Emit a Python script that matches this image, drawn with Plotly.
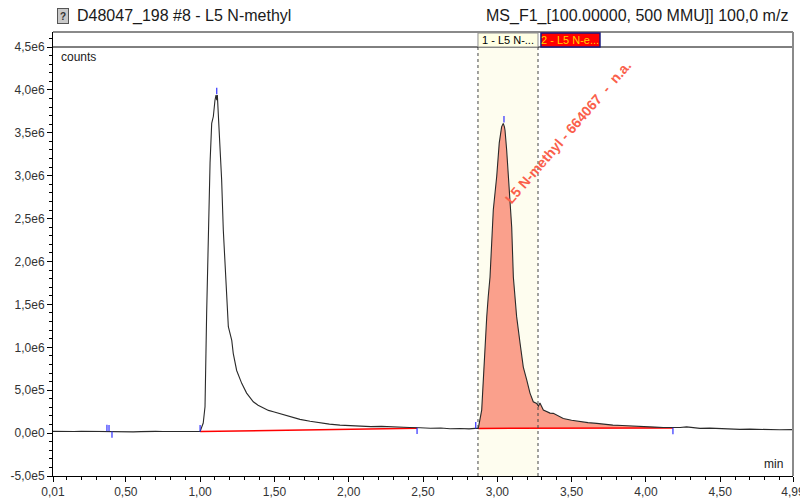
import plotly.graph_objects as go
import numpy as np

# ---------------- data ----------------
time_min = [0.01, 0.05, 0.10, 0.15, 0.20, 0.25, 0.30, 0.35, 0.40, 0.45, 0.50, 0.55, 0.60, 0.65, 0.70,
            0.75, 0.80, 0.85, 0.90, 0.95,
            1.000, 1.021, 1.033, 1.044, 1.055, 1.067, 1.078, 1.089, 1.100, 1.107, 1.112, 1.116, 1.122,
            1.129, 1.138, 1.145, 1.156, 1.167, 1.179, 1.190, 1.213, 1.223, 1.246, 1.280, 1.313, 1.335,
            1.358, 1.39, 1.425, 1.46, 1.493, 1.54, 1.583, 1.63, 1.672, 1.74, 1.807, 1.87, 1.941, 2.01,
            2.076, 2.15, 2.22, 2.29, 2.345, 2.41, 2.48, 2.55, 2.62, 2.682, 2.75, 2.81, 2.850,
            2.872, 2.895, 2.906, 2.917, 2.929, 2.939, 2.951, 2.962, 2.973, 2.996, 3.013, 3.029, 3.040,
            3.048, 3.052, 3.063, 3.081, 3.097, 3.108, 3.130, 3.153, 3.175, 3.198, 3.220, 3.242, 3.265,
            3.277, 3.287, 3.310, 3.355, 3.377, 3.444, 3.50, 3.556, 3.61, 3.669, 3.72, 3.778, 3.84,
            3.893, 3.95, 4.005, 4.06, 4.117, 4.182, 4.23, 4.274, 4.32, 4.364, 4.43, 4.499, 4.57, 4.633,
            4.70, 4.768, 4.84, 4.90, 4.99]
counts = [2.0e4, 1.8e4, 2.1e4, 1.9e4, 2.2e4, 2.0e4, 1.7e4, 2.3e4, 2.0e4, 1.9e4, 1.6e4, 1.4e4, 1.7e4, 2.1e4, 2.0e4,
          1.8e4, 1.9e4, 2.2e4, 1.9e4, 2.0e4,
          1.8e4, 1.17e5, 3.07e5, 1.40e6, 2.37e6, 3.15e6, 3.61e6, 3.69e6, 3.88e6, 3.94e6, 3.88e6, 3.94e6, 3.73e6,
          3.50e6, 3.34e6, 2.95e6, 2.37e6, 1.98e6, 1.47e6, 1.24e6, 1.08e6, 9.3e5, 7.3e5, 5.8e5, 4.66e5, 4.1e5,
          3.65e5, 3.25e5, 2.91e5, 2.65e5, 2.48e5, 2.25e5, 2.10e5, 1.85e5, 1.60e5, 1.38e5, 1.20e5, 1.05e5, 9.3e4, 8.6e4,
          8.2e4, 7.5e4, 7.8e4, 7.1e4, 7.3e4, 6.6e4, 6.2e4, 5.6e4, 5.9e4, 5.0e4, 5.3e4, 4.9e4, 5.5e4,
          5.5e4, 2.68e5, 6.56e5, 1.05e6, 1.36e6, 1.59e6, 1.82e6, 2.21e6, 2.60e6, 2.99e6, 3.38e6, 3.57e6, 3.61e6,
          3.57e6, 3.53e6, 3.30e6, 2.80e6, 2.40e6, 1.82e6, 1.36e6, 1.05e6, 7.7e5, 6.2e5, 4.66e5, 3.65e5, 3.46e5,
          3.15e5, 3.5e5, 2.68e5, 2.33e5, 2.30e5, 1.71e5, 1.50e5, 1.32e5, 1.22e5, 1.13e5, 1.02e5, 9.3e4, 8.8e4,
          8.2e4, 7.9e4, 7.3e4, 7.0e4, 6.6e4, 6.2e4, 6.6e4, 7.3e4, 6.0e4, 5.5e4, 5.8e4, 5.2e4, 4.9e4, 4.3e4,
          4.6e4, 4.1e4, 4.4e4, 3.9e4, 4.0e4]

# integration baselines (start time, end time, start level, end level)
base1_t = [1.000, 2.46]
base1_v = [1.8e4, 5.8e4]
base2_t = [2.872, 4.182]
base2_v = [5.5e4, 6.0e4]

# peak delimiter marks
start_marks = [0.373, 0.387, 1.000, 2.855]
end_marks = [0.407, 2.46, 4.182]
apex_t = [1.112, 3.045]
apex_v = [3.95e6, 3.62e6]

window_t = [2.870, 3.274]

y_tickvals = [-5e5, 0, 5e5, 1e6, 1.5e6, 2e6, 2.5e6, 3e6, 3.5e6, 4e6, 4.5e6]
y_ticktext = ["-5,0e5", "0,0e0", "5,0e5", "1,0e6", "1,5e6", "2,0e6", "2,5e6", "3,0e6", "3,5e6", "4,0e6", "4,5e6"]
x_tickvals = [0.01, 0.5, 1.0, 1.5, 2.0, 2.5, 3.0, 3.5, 4.0, 4.5, 4.99]
x_ticktext = ["0,01", "0,50", "1,00", "1,50", "2,00", "2,50", "3,00", "3,50", "4,00", "4,50", "4,99"]

FONT = "Liberation Sans, Arial, sans-serif"
t = np.array(time_min)
c = np.array(counts)

fig = go.Figure()

# filled area of peak 2
m = (t >= base2_t[0]) & (t <= base2_t[1])
px = list(t[m]) + base2_t[::-1]
py = list(c[m]) + base2_v[::-1]
fig.add_trace(go.Scatter(x=px, y=py, fill="toself", fillcolor="rgb(250,160,140)",
                         line=dict(width=0), mode="lines", hoverinfo="skip"))

# baselines
for bt, bv in [(base1_t, base1_v), (base2_t, base2_v)]:
    fig.add_trace(go.Scatter(x=bt, y=bv, mode="lines", line=dict(color="#FF0000", width=1.5),
                             hoverinfo="skip"))

# chromatogram trace
fig.add_trace(go.Scatter(x=time_min, y=counts, mode="lines",
                         line=dict(color="#2a2a2a", width=1.1)))

# blue delimiter marks
L = 7.5e4
mx, my = [], []
for s in start_marks:
    v = float(np.interp(s, t, c))
    mx += [s, s, None]
    my += [v, v + L, None]
for e in end_marks:
    v = float(np.interp(e, t, c))
    mx += [e, e, None]
    my += [v, v - L, None]
for a, v in zip(apex_t, apex_v):
    mx += [a, a, None]
    my += [v, v + L, None]
fig.add_trace(go.Scatter(x=mx, y=my, mode="lines", line=dict(color="#3030ff", width=1.2),
                         hoverinfo="skip"))

shapes = []
# integration window shading
shapes.append(dict(type="rect", xref="x", yref="paper", x0=window_t[0], x1=window_t[1], y0=0, y1=1,
                   fillcolor="#FEFDEF", line=dict(width=0), layer="below"))
for wt in window_t:
    shapes.append(dict(type="line", xref="x", yref="y", x0=wt, x1=wt, y0=-5e5, y1=4.5e6,
                       line=dict(color="#444444", width=1, dash="dot")))
# line at 4.5e6
shapes.append(dict(type="line", xref="paper", yref="y", x0=0, x1=1, y0=4.5e6, y1=4.5e6,
                   line=dict(color="black", width=1)))
# top and right gray frame
shapes.append(dict(type="line", xref="paper", yref="paper", x0=0, x1=1, y0=1, y1=1,
                   line=dict(color="#8a8a8a", width=2)))
shapes.append(dict(type="line", xref="paper", yref="paper", x0=1, x1=1, y0=0, y1=1,
                   line=dict(color="#8a8a8a", width=2)))
# label boxes in the top strip
shapes.append(dict(type="rect", xref="x", yref="paper", x0=2.870, x1=3.274, y0=0.9662, y1=0.9977,
                   fillcolor="#FFFFE4", line=dict(color="#909090", width=1)))
shapes.append(dict(type="rect", xref="x", yref="paper", x0=3.294, x1=3.691, y0=0.9662, y1=0.9977,
                   fillcolor="#FF0000", line=dict(color="#1a1a80", width=1.5)))

annotations = [
    dict(text="1 - L5 N-...", x=(2.870 + 3.274) / 2, xref="x", y=0.982, yref="paper", showarrow=False,
         xanchor="center", yanchor="middle", font=dict(family=FONT, size=11, color="black")),
    dict(text="2 - L5 N-e...", x=(3.294 + 3.691) / 2, xref="x", y=0.982, yref="paper", showarrow=False,
         xanchor="center", yanchor="middle", font=dict(family=FONT, size=11, color="#FFD400")),
    dict(text="<b>L5 N-methyl - 664067\u00a0\u00a0-\u00a0\u00a0n.a.</b>", x=3.476, y=3.51e6, xref="x", yref="y",
         textangle=-49, showarrow=False, font=dict(family=FONT, size=14, color="rgb(250,95,75)")),
    dict(text="counts", xref="paper", yref="paper", x=0.008, y=0.944, xanchor="left", yanchor="middle",
         showarrow=False, font=dict(family=FONT, size=12, color="#1a1a1a")),
    dict(text="min", xref="paper", yref="paper", x=0.989, y=0.027, xanchor="right", yanchor="middle",
         showarrow=False, font=dict(family=FONT, size=12, color="#1a1a1a")),
    dict(text="D48047_198 #8 - L5 N-methyl", xref="paper", yref="paper", x=0.0297, y=1.036,
         xanchor="left", yanchor="middle", showarrow=False, font=dict(family=FONT, size=16, color="#1a1a1a")),
    dict(text="MS_F1_[100.00000, 500 MMU]] 100,0 m/z", xref="paper", yref="paper", x=0.996, y=1.036,
         xanchor="right", yanchor="middle", showarrow=False, font=dict(family=FONT, size=16, color="#1a1a1a")),
    dict(text="<b>?</b>", xref="paper", yref="paper", x=0.0135, y=1.036, xanchor="center", yanchor="middle",
         showarrow=False, bgcolor="#c9c9c9", bordercolor="#555555", borderwidth=1, borderpad=0,
         width=10, height=14, font=dict(family=FONT, size=10, color="#333333")),
]

# the page body adds an 8 px offset, so the figure is 8 px smaller and margins are shifted
fig.update_layout(
    width=800, height=490,
    margin=dict(l=45, r=15, t=24, b=22, autoexpand=False),
    paper_bgcolor="white", plot_bgcolor="white",
    showlegend=False,
    shapes=shapes, annotations=annotations,
    font=dict(family=FONT, size=12, color="#333333"),
    xaxis=dict(range=[0.01, 4.99], tickmode="array", tickvals=x_tickvals, ticktext=x_ticktext,
               automargin=False, ticklabeloverflow="allow",
               showgrid=False, zeroline=False, showline=True, linecolor="black", linewidth=1,
               ticks="outside", ticklen=5, tickcolor="black",
               minor=dict(tickmode="linear", tick0=0, dtick=0.1, ticks="outside", ticklen=3,
                          tickcolor="black", showgrid=False),
               tickfont=dict(family=FONT, size=12, color="#333333")),
    yaxis=dict(range=[-5e5, 4.675e6], tickmode="array", tickvals=y_tickvals, ticktext=y_ticktext,
               automargin=False, ticklabeloverflow="allow",
               showgrid=False, zeroline=False, showline=True, linecolor="black", linewidth=1,
               ticks="outside", ticklen=5, tickcolor="black",
               minor=dict(tickmode="linear", tick0=0, dtick=1e5, ticks="outside", ticklen=3,
                          tickcolor="black", showgrid=False),
               tickfont=dict(family=FONT, size=12, color="#333333")),
)

fig.write_html("out.html", post_script="document.documentElement.style.overflow='hidden';")
